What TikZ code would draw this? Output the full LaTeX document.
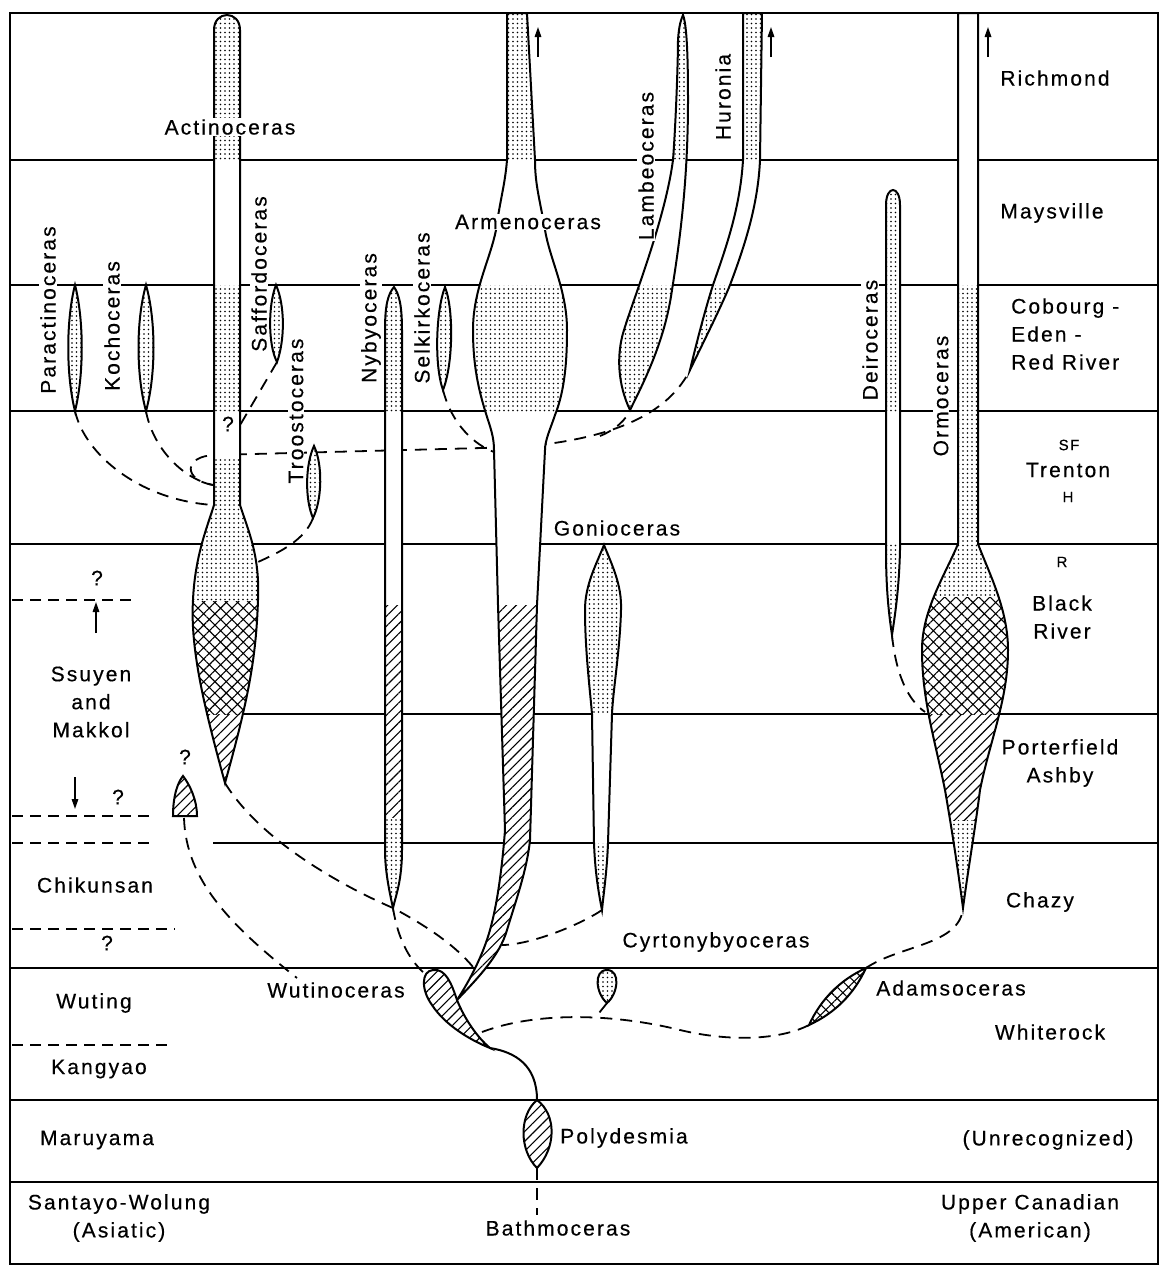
\documentclass[tikz,border=0pt]{standalone}
\usepackage{fontspec}
\newfontfamily\lett[LetterSpace=10,FakeBold=0.4]{Liberation Sans}
\newcommand\labfont{\lett\fontsize{21}{28}\selectfont}
\usetikzlibrary{arrows.meta,patterns.meta}

\begin{document}
\begin{tikzpicture}[x=1pt, y=-1pt,
  stage/.style={line width=1.6pt},
  guess/.style={line width=1.6pt, dash pattern=on 11pt off 7pt},
  link/.style={line width=1.8pt, dash pattern=on 12pt off 8pt},
  shell/.style={draw, line width=2pt, fill=white},
  whole/.style={draw, line width=2pt, preaction={fill=white}, #1},
  stip/.style={pattern={Dots[distance=4.5pt, radius=0.95pt]}},
  hat/.style={pattern={Lines[angle=45, distance=7pt, line width=1.1pt]}},
  xhat/.style={pattern={Hatch[angle=45, distance=8pt, line width=1.1pt]}},
  up/.style={-{Triangle[length=10pt, width=6.5pt]}, line width=1.6pt},
  lab/.style={font=\labfont, fill=white, inner sep=1pt},
  vlab/.style={lab, rotate=90},
  small/.style={font=\lett\fontsize{15}{18}\selectfont, fill=white, inner sep=1pt}
]
\useasboundingbox (0,0) rectangle (1161,1270);

% stages
\draw[line width=2.2pt] (10,13) rectangle (1158,1264);
\foreach \y in {160,285,411,544,968,1100,1182}
  \draw[stage] (10,\y) -- (1158,\y);
\draw[stage] (240,714) -- (1158,714);
\draw[stage] (213,843) -- (1158,843);
\foreach \y/\x in {600/135, 816/150, 843/150, 929/175, 1045/170}
  \draw[guess] (12,\y) -- (\x,\y);

% tips
\coordinate (paraTip) at (75,411);
\coordinate (kochTip) at (146,411);
\coordinate (saffTip) at (277,362);
\coordinate (trooTip) at (313,518);
\coordinate (selkTip) at (443,390);
\coordinate (lambTip) at (630,410);
\coordinate (huroTip) at (690,370);
\coordinate (actTip) at (225,783);
\coordinate (nybTip) at (393,908);
\coordinate (gonTip) at (602,910);
\coordinate (deirTip) at (892,635);
\coordinate (ormTip) at (963,908);
\coordinate (armBase) at (457,1000);
\coordinate (wutTail) at (490,1048);
\coordinate (polyTop) at (537,1100);
\coordinate (polyBot) at (537,1168);
\coordinate (adamLo) at (809,1025);
\coordinate (adamHi) at (866,968);
\coordinate (cyrBot) at (607,1003);
\coordinate (qTip) at (184,818);
\coordinate (actLeftA) at (213,505);
\coordinate (actLeftB) at (213,485);
\coordinate (actRight) at (258,562);
\coordinate (actGap) at (236,432);
\coordinate (armLeft) at (494,452);
\coordinate (armFoot) at (473,967);
\coordinate (armSide) at (502,945);
\coordinate (ormSide) at (925,712);
\coordinate (wutHead) at (423,972);
\coordinate (wutBack) at (482,1032);
\coordinate (wutLabel) at (297,978);
\coordinate (bathTop) at (537,1215);
\coordinate (waveJoin) at (595,1018);

% dashed links
\draw[link] (paraTip) .. controls (85,455) and (140,500) .. (actLeftA);
\draw[link] (kochTip) .. controls (152,445) and (180,478) .. (actLeftB);
\draw[link] (saffTip) -- (actGap);
\draw[link] (trooTip) .. controls (305,540) and (280,552) .. (actRight);
\draw[link] (actLeftB) .. controls (183,480) and (183,456) .. (215,455) -- (520,447)
  .. controls (600,440) and (665,420) .. (huroTip);
\draw[link] (600,436) .. controls (615,430) and (626,420) .. (lambTip);
\draw[link] (selkTip) .. controls (452,425) and (475,445) .. (armLeft);
\draw[link] (deirTip) .. controls (896,675) and (908,700) .. (ormSide);
\draw[link] (actTip) .. controls (260,840) and (340,885) .. (nybTip)
  .. controls (425,925) and (455,945) .. (armFoot);
\draw[link] (nybTip) .. controls (398,940) and (410,960) .. (wutHead);
\draw[link] (gonTip) .. controls (580,925) and (530,945) .. (armSide);
\draw[link] (qTip) .. controls (186,880) and (230,925) .. (wutLabel);
\draw[link] (wutBack) .. controls (540,1010) and (620,1015) .. (680,1030)
  .. controls (730,1042) and (780,1040) .. (adamLo);
\draw[link] (cyrBot) -- (waveJoin);
\draw[link] (adamHi) .. controls (900,945) and (960,945) .. (ormTip);
\draw[link] (polyBot) -- (bathTop);

% Actinoceras
\draw[shell, path picture={
    \fill[stip] (0,0) rectangle (1161,160);
    \fill[stip] (0,285) rectangle (1161,411);
    \fill[stip] (0,457) rectangle (1161,601);
    \fill[xhat] (0,601) rectangle (1161,714);
    \fill[hat] (0,714) rectangle (1161,800);}]
  (214,505) -- (214,30) .. controls (214,10) and (240,10) .. (240,30) -- (240,505)
  .. controls (248,530) and (260,555) .. (258,600) .. controls (256,660) and (248,700) .. (actTip)
  .. controls (205,710) and (190,650) .. (193,600) .. controls (195,555) and (208,525) .. (214,505) -- cycle;

\draw[whole=stip] (75,285) .. controls (84,320) and (84,375) .. (paraTip)
  .. controls (66,375) and (66,320) .. (75,285) -- cycle;
\draw[whole=stip] (146,285) .. controls (156,320) and (156,375) .. (kochTip)
  .. controls (136,375) and (136,320) .. (146,285) -- cycle;
\draw[whole=stip] (276,285) .. controls (285,305) and (285,340) .. (saffTip)
  .. controls (268,345) and (268,305) .. (276,285) -- cycle;
\draw[whole=stip] (314,446) .. controls (323,465) and (322,500) .. (trooTip)
  .. controls (305,500) and (305,465) .. (314,446) -- cycle;
\draw[whole=stip] (445,287) .. controls (454,310) and (453,365) .. (selkTip)
  .. controls (434,365) and (436,310) .. (445,287) -- cycle;

% Nybyoceras
\draw[shell, path picture={
    \fill[stip] (0,285) rectangle (1161,411);
    \fill[hat] (0,605) rectangle (1161,817);
    \fill[stip] (0,817) rectangle (1161,912);}]
  (394,287) .. controls (399,294) and (402,305) .. (402,330) -- (402,850)
  .. controls (402,880) and (396,895) .. (nybTip) .. controls (389,890) and (385,870) .. (385,850)
  -- (385,330) .. controls (385,305) and (388,294) .. (394,287) -- cycle;

% Armenoceras
\draw[shell, path picture={
    \fill[stip] (0,0) rectangle (1161,160);
    \fill[stip] (0,285) rectangle (1161,411);
    \fill[hat] (0,605) rectangle (1161,1010);}]
  (507,13) -- (507,160) .. controls (505,185) and (500,200) .. (496,230)
  .. controls (490,260) and (473,290) .. (473,330) .. controls (473,370) and (480,395) .. (488,420)
  .. controls (492,432) and (494,440) .. (494,450) -- (498,605) -- (505,830)
  .. controls (502,870) and (497,905) .. (490,930) .. controls (483,955) and (470,980) .. (armBase)
  .. controls (478,978) and (500,955) .. (507,930) .. controls (516,900) and (527,870) .. (530,840)
  -- (537,605) -- (545,450) .. controls (545,440) and (550,430) .. (555,415)
  .. controls (565,390) and (567,360) .. (567,330) .. controls (567,290) and (550,260) .. (545,230)
  .. controls (540,200) and (535,185) .. (535,160) -- (527,13) -- cycle;

% Lambeoceras
\draw[shell, path picture={
    \fill[stip] (0,0) rectangle (1161,160);
    \fill[stip] (0,285) rectangle (1161,411);}]
  (683,15) .. controls (687,25) and (688,60) .. (688,100) .. controls (688,180) and (680,240) .. (672,290)
  .. controls (665,340) and (645,380) .. (lambTip) .. controls (618,385) and (616,355) .. (624,330)
  .. controls (633,300) and (665,220) .. (673,160) .. controls (676,120) and (678,60) .. (678,40)
  .. controls (679,25) and (681,20) .. (683,15) -- cycle;

% Huronia
\draw[shell, path picture={
    \fill[stip] (0,0) rectangle (1161,160);
    \fill[stip] (0,285) rectangle (1161,380);}]
  (743,13) -- (743,160) .. controls (740,210) and (725,250) .. (713,285)
  .. controls (705,310) and (696,345) .. (huroTip) .. controls (702,345) and (722,305) .. (730,285)
  .. controls (745,245) and (758,205) .. (760,160) -- (762,13) -- cycle;

% Gonioceras
\draw[shell, path picture={
    \fill[stip] (0,540) rectangle (1161,714);
    \fill[stip] (0,843) rectangle (1161,915);}]
  (604,545) .. controls (612,565) and (622,585) .. (621,610) .. controls (620,650) and (613,690) .. (612,714)
  -- (608,843) .. controls (607,870) and (604,890) .. (gonTip) .. controls (598,890) and (595,870) .. (594,843)
  -- (592,714) .. controls (590,690) and (585,650) .. (585,610) .. controls (585,585) and (596,565) .. (604,545) -- cycle;

% Deiroceras
\draw[shell, path picture={
    \fill[stip] (0,0) rectangle (1161,411);
    \fill[stip] (0,544) rectangle (1161,640);}]
  (886,205) .. controls (886,185) and (900,185) .. (900,205) -- (900,550)
  .. controls (899,590) and (895,615) .. (deirTip) .. controls (889,615) and (886,590) .. (886,550) -- cycle;

% Ormoceras
\draw[shell, path picture={
    \fill[stip] (0,285) rectangle (1161,597);
    \fill[xhat] (0,597) rectangle (1161,714);
    \fill[hat] (0,714) rectangle (1161,820);
    \fill[stip] (0,820) rectangle (1161,915);}]
  (958,13) -- (958,544) .. controls (945,575) and (922,610) .. (922,650)
  .. controls (922,700) and (935,740) .. (945,790) .. controls (952,830) and (958,870) .. (ormTip)
  .. controls (968,870) and (975,830) .. (980,790) .. controls (990,740) and (1008,700) .. (1008,650)
  .. controls (1008,610) and (990,575) .. (978,544) -- (978,13) -- cycle;

% lower forms
\draw[whole=stip] (607,970) .. controls (621,970) and (618,994) .. (cyrBot)
  .. controls (596,994) and (593,970) .. (607,970) -- cycle;
\draw[whole=xhat] (adamLo) .. controls (821,999) and (840,980) .. (adamHi)
  .. controls (854,994) and (835,1013) .. (adamLo) -- cycle;
\draw[whole=hat] (wutTail) .. controls (470,1040) and (445,1025) .. (432,1005)
  .. controls (421,990) and (421,971) .. (433,970) .. controls (446,968) and (452,985) .. (armBase)
  .. controls (465,1020) and (478,1038) .. (wutTail) -- cycle;
\draw[whole=hat] (polyTop) .. controls (557,1115) and (556,1148) .. (polyBot)
  .. controls (519,1150) and (519,1115) .. (polyTop) -- cycle;
\draw[whole=hat] (173,816) .. controls (173,795) and (178,782) .. (183,776)
  .. controls (190,785) and (197,800) .. (197,816) -- cycle;
\draw[line width=2pt] (wutTail) .. controls (515,1052) and (537,1065) .. (polyTop);

% arrows
\foreach \x in {538,771,988}
  \draw[up] (\x,57) -- (\x,27);
\draw[up] (96,633) -- (96,602);
\draw[up] (75,777) -- (75,809);

% genus names
\node[lab] (actL) at (230,127) {Actinoceras};
\node[lab] (armL) at (528,222) {Armenoceras};
\node[lab] (gonL) at (617,528) {Gonioceras};
\node[lab] (cyrL) at (716,942) {Cyrtonybyoceras};
\node[lab] (wutL) at (336,990) {Wutinoceras};
\node[lab] (adamL) at (951,988) {Adamsoceras};
\node[lab] (polyL) at (624,1138) {Polydesmia};
\node[lab] (bathL) at (558,1228) {Bathmoceras};
\node[vlab] (paraL) at (48,310) {Paractinoceras};
\node[vlab] (kochL) at (112,326) {Kochoceras};
\node[vlab] (saffL) at (259,274) {Saffordoceras};
\node[vlab] (trooL) at (296,411) {Troostoceras};
\node[vlab] (nybL) at (371,318) {Nybyoceras};
\node[vlab] (selkL) at (422,308) {Selkirkoceras};
\node[vlab] (lambL) at (646,166) {Lambeoceras};
\node[vlab] (huroL) at (723,97) {Huronia};
\node[vlab] (deirL) at (870,340) {Deiroceras};
\node[vlab] (ormL) at (941,396) {Ormoceras};

% question marks
\node[lab] (qAct) at (228,424) {?};
\node[lab] (qTop) at (97,578) {?};
\node[lab] (qMid) at (118,797) {?};
\node[lab] (qBlob) at (185,757) {?};
\node[lab] (qLow) at (107,943) {?};

% American stages
\node[lab] (richL) at (1055,78) {Richmond};
\node[lab] (maysL) at (1052,213) {Maysville};
\node[lab, anchor=west, align=left] (cobL) at (1010,334) {Cobourg -\\Eden -\\Red River};
\node[small] (sfL) at (1069,445) {SF};
\node[lab] (trenL) at (1068,470) {Trenton};
\node[small] (hL) at (1068,497) {H};
\node[small] (rL) at (1062,562) {R};
\node[lab, align=center] (brL) at (1062,617) {Black\\River};
\node[lab, align=center] (portL) at (1060,763) {Porterfield\\Ashby};
\node[lab] (chazL) at (1040,902) {Chazy};
\node[lab] (whitL) at (1050,1032) {Whiterock};
\node[lab] (unrL) at (1048,1140) {(Unrecognized)};
\node[lab, align=center] (ucL) at (1030,1218) {Upper Canadian\\(American)};

% Asiatic stages
\node[lab, align=center] (ssL) at (91,702) {Ssuyen\\and\\Makkol};
\node[lab] (chikL) at (95,885) {Chikunsan};
\node[lab] (wutiL) at (94,1003) {Wuting};
\node[lab] (kangL) at (99,1069) {Kangyao};
\node[lab] (maruL) at (97,1140) {Maruyama};
\node[lab, align=center] (santL) at (119,1218) {Santayo-Wolung\\(Asiatic)};
\end{tikzpicture}
\end{document}
